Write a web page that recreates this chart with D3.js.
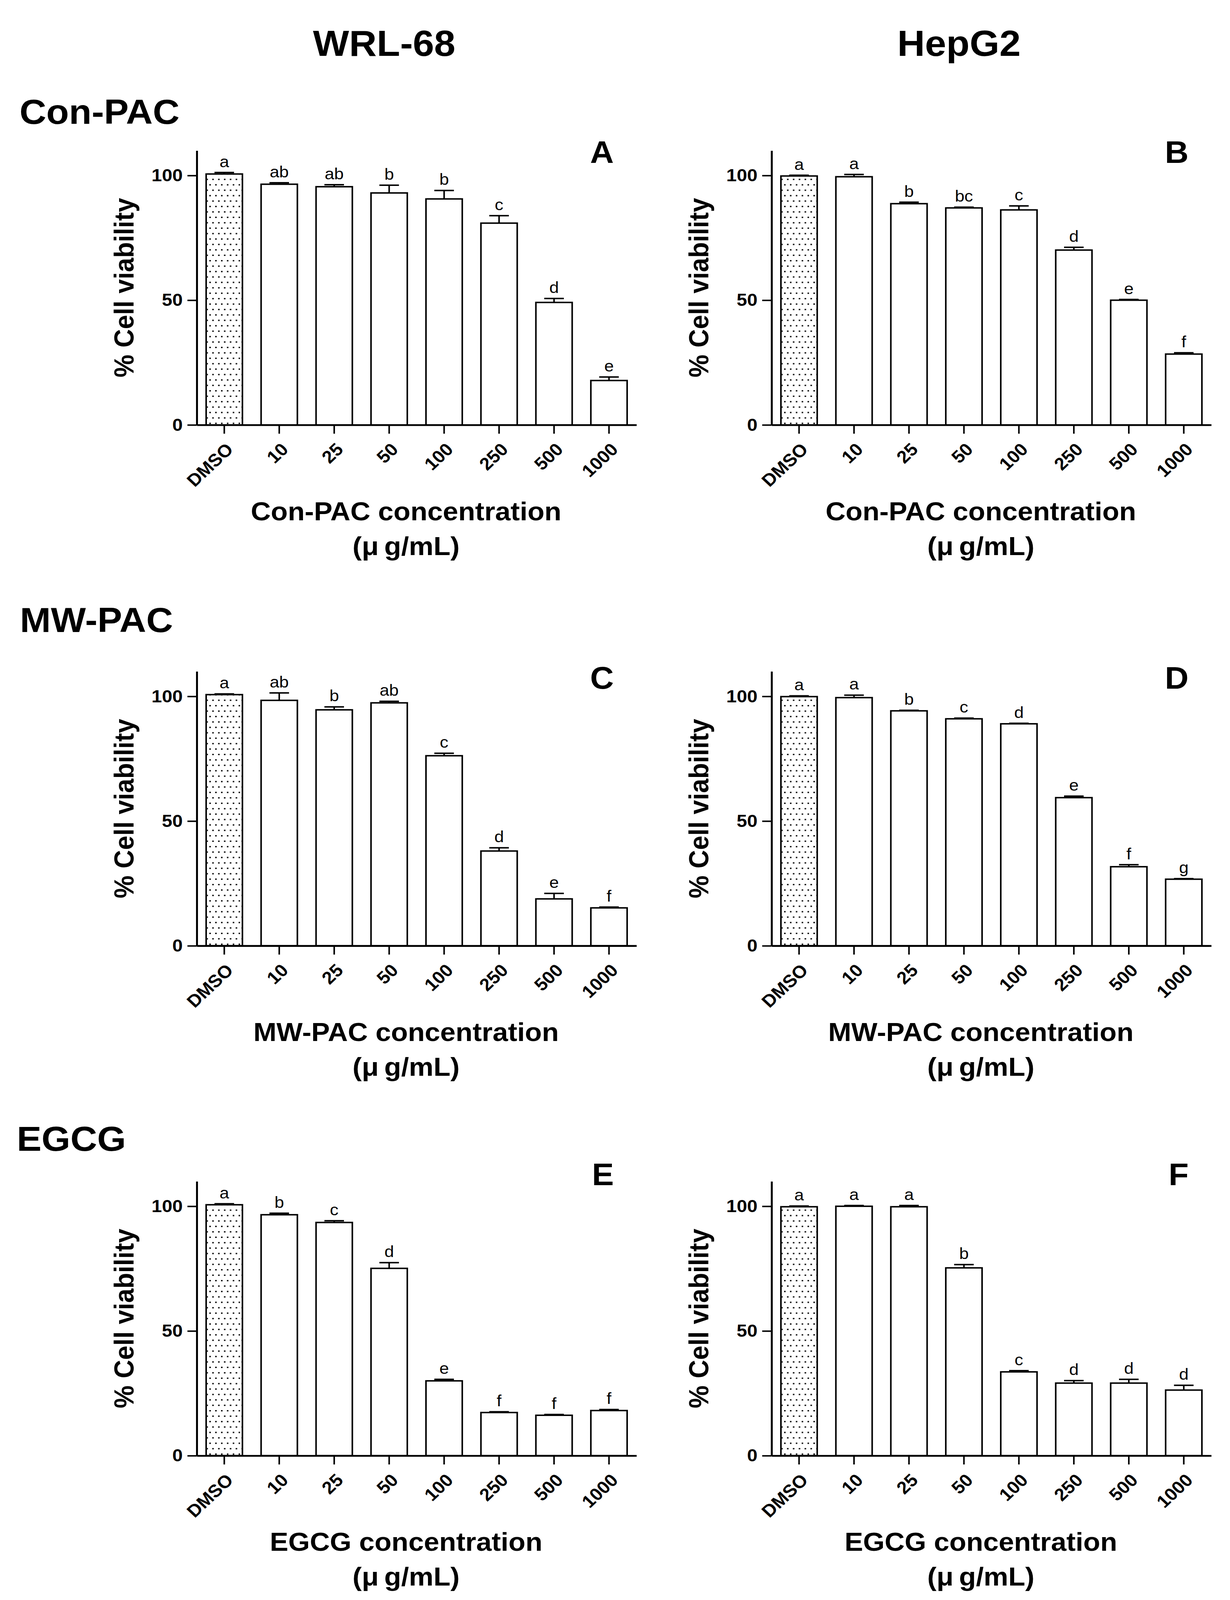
<!DOCTYPE html>
<html>
<head>
<meta charset="utf-8">
<script src="https://cdn.jsdelivr.net/npm/d3@7"></script>
<style>
  html, body { margin: 0; padding: 0; background: #fff; overflow: hidden; }
  svg { display: block; }
  text { font-family: "Liberation Sans", Arial, sans-serif; fill: #000; }
</style>
</head>
<body>
<script>
// concentrations (µg/mL), DMSO is the vehicle control
var categories = ["DMSO", "10", "25", "50", "100", "250", "500", "1000"];
var yTicks = [0, 50, 100];
var cellLines = ["WRL-68", "HepG2"];
var treatments = ["Con-PAC", "MW-PAC", "EGCG"];
var panelLetters = ["A", "B", "C", "D", "E", "F"];

// % cell viability, mean and error (upper bar only)
var conPacWrl    = [100.6, 96.5, 95.5, 93.0, 90.6, 80.9, 49.1, 17.8];
var conPacWrlErr = [0.6, 0.6, 0.8, 3.1, 3.4, 3.0, 1.6, 1.4];
var conPacWrlSig = ["a", "ab", "ab", "b", "b", "c", "d", "e"];

var conPacHep    = [99.8, 99.5, 88.7, 87.0, 86.2, 70.1, 50.0, 28.4];
var conPacHepErr = [0.3, 0.9, 0.6, 0.3, 1.6, 1.1, 0.3, 0.5];
var conPacHepSig = ["a", "a", "b", "bc", "c", "d", "e", "f"];

var mwPacWrl    = [100.7, 98.4, 94.6, 97.4, 76.2, 38.0, 18.8, 15.2];
var mwPacWrlErr = [0.3, 3.0, 1.2, 0.6, 1.0, 1.3, 2.2, 0.3];
var mwPacWrlSig = ["a", "ab", "b", "ab", "c", "d", "e", "f"];

var mwPacHep    = [99.9, 99.5, 94.2, 91.0, 89.0, 59.4, 31.7, 26.7];
var mwPacHepErr = [0.3, 1.0, 0.2, 0.3, 0.2, 0.6, 0.8, 0.2];
var mwPacHepSig = ["a", "a", "b", "c", "d", "e", "f", "g"];

var egcgWrl    = [100.6, 96.6, 93.5, 75.1, 30.0, 17.3, 16.2, 18.1];
var egcgWrlErr = [0.4, 0.6, 0.7, 2.3, 0.6, 0.3, 0.3, 0.4];
var egcgWrlSig = ["a", "b", "c", "d", "e", "f", "f", "f"];

var egcgHep    = [99.8, 100.0, 99.8, 75.3, 33.6, 29.1, 29.1, 26.3];
var egcgHepErr = [0.3, 0.3, 0.5, 1.3, 0.5, 1.0, 1.5, 1.9];
var egcgHepSig = ["a", "a", "a", "b", "c", "d", "d", "d"];

var panels = [
    {row: 0, col: 0, values: conPacWrl, err: conPacWrlErr, sig: conPacWrlSig},
    {row: 0, col: 1, values: conPacHep, err: conPacHepErr, sig: conPacHepSig},
    {row: 1, col: 0, values: mwPacWrl, err: mwPacWrlErr, sig: mwPacWrlSig},
    {row: 1, col: 1, values: mwPacHep, err: mwPacHepErr, sig: mwPacHepSig},
    {row: 2, col: 0, values: egcgWrl, err: egcgWrlErr, sig: egcgWrlSig},
    {row: 2, col: 1, values: egcgHep, err: egcgHepErr, sig: egcgHepSig}
];

// layout, in figure units (the figure is 3150 x 4368 and is fitted to the window)
var width = 3150, height = 4368;
var colX = [504, 1976];
var rowZero = [1160, 2582, 3974];
var rowHeadY = [338, 1725, 3142];
var rowHeadX = [50, 51, 43];
var letterDy = [-715, -702, -738];
var plotW = 1126, plotH = 749;

var vw = window.innerWidth || width,
    vh = window.innerHeight || height;

var svg = d3.select("body").append("svg")
    .attr("width", vw)
    .attr("height", vh)
    .attr("viewBox", "0 0 " + width + " " + height)
    .attr("preserveAspectRatio", "none");

svg.append("rect").attr("width", width).attr("height", height).attr("fill", "#fff");

var pat = svg.append("defs").append("pattern")
    .attr("id", "dots")
    .attr("patternUnits", "userSpaceOnUse")
    .attr("width", 15)
    .attr("height", 29.6);
pat.append("rect").attr("width", 15).attr("height", 29.6).attr("fill", "#fff");
pat.append("rect").attr("x", 2).attr("y", 3).attr("width", 4).attr("height", 3.5).attr("fill", "#000");
pat.append("rect").attr("x", 9.5).attr("y", 17.8).attr("width", 4).attr("height", 3.5).attr("fill", "#000");

// column headers
cellLines.forEach(function (name, i) {
    svg.append("text")
        .attr("x", colX[i] + 480)
        .attr("y", 153)
        .attr("text-anchor", "middle")
        .attr("font-size", 98)
        .attr("font-weight", "bold")
        .text(name);
});

// row headers
treatments.forEach(function (name, i) {
    svg.append("text")
        .attr("x", rowHeadX[i])
        .attr("y", rowHeadY[i])
        .attr("font-size", 95)
        .attr("font-weight", "bold")
        .text(name);
});

panels.forEach(function (p, k) {
    var g = svg.append("g")
        .attr("transform", "translate(" + colX[p.col] + "," + (rowZero[p.row] - plotH) + ")");

    var x = d3.scaleBand()
        .domain(categories)
        .range([0, plotW])
        .paddingInner(0.34)
        .paddingOuter(0.17);
    var y = d3.scaleLinear()
        .domain([0, 110])
        .range([plotH, 0]);

    var data = categories.map(function (c, i) {
        return {cat: c, v: p.values[i], e: p.err[i], s: p.sig[i]};
    });

    g.selectAll(".bar")
        .data(data)
        .enter().append("rect")
        .attr("class", "bar")
        .attr("x", function (d) { return x(d.cat); })
        .attr("width", x.bandwidth())
        .attr("y", function (d) { return y(d.v); })
        .attr("height", function (d) { return plotH - y(d.v); })
        .attr("fill", function (d, i) { return i === 0 ? "url(#dots)" : "#fff"; })
        .attr("stroke", "#000")
        .attr("stroke-width", 4);

    var capW = x.bandwidth() * 0.54;
    var cx = function (d) { return x(d.cat) + x.bandwidth() / 2; };

    g.selectAll(".errv")
        .data(data)
        .enter().append("line")
        .attr("x1", cx).attr("x2", cx)
        .attr("y1", function (d) { return y(d.v); })
        .attr("y2", function (d) { return y(d.v + d.e); })
        .attr("stroke", "#000")
        .attr("stroke-width", 4);

    g.selectAll(".errc")
        .data(data)
        .enter().append("line")
        .attr("x1", function (d) { return cx(d) - capW / 2; })
        .attr("x2", function (d) { return cx(d) + capW / 2; })
        .attr("y1", function (d) { return y(d.v + d.e); })
        .attr("y2", function (d) { return y(d.v + d.e); })
        .attr("stroke", "#000")
        .attr("stroke-width", 4);

    g.selectAll(".sig")
        .data(data)
        .enter().append("text")
        .attr("x", cx)
        .attr("y", function (d) { return y(d.v + d.e) - 15; })
        .attr("text-anchor", "middle")
        .attr("font-size", 44)
        .text(function (d) { return d.s; });

    // axes
    var yAxis = g.append("g")
        .call(d3.axisLeft(y).tickValues(yTicks).tickSize(24).tickPadding(12).tickSizeOuter(0));
    yAxis.attr("font-size", 48).attr("font-weight", "bold").attr("font-family", null);
    yAxis.select(".domain").attr("stroke-width", 5);
    yAxis.selectAll(".tick line").attr("stroke-width", 4);

    var xAxis = g.append("g")
        .attr("transform", "translate(0," + plotH + ")")
        .call(d3.axisBottom(x).tickSize(24).tickSizeOuter(0));
    xAxis.attr("font-size", 48).attr("font-weight", "bold").attr("font-family", null);
    xAxis.select(".domain").attr("stroke-width", 5);
    xAxis.selectAll(".tick line").attr("stroke-width", 4);
    xAxis.selectAll(".tick text")
        .attr("x", 0)
        .attr("y", 0)
        .attr("dy", "0.35em")
        .attr("text-anchor", "end")
        .attr("transform", "translate(14,58) rotate(-45)");

    // labels
    g.append("text")
        .attr("transform", "translate(-162," + y(55) + ") rotate(-90)")
        .attr("text-anchor", "middle")
        .attr("font-size", 70)
        .attr("font-weight", "bold")
        .text("% Cell viability");

    var title = g.append("text")
        .attr("x", 536)
        .attr("y", plotH + 260)
        .attr("text-anchor", "middle")
        .attr("font-size", 71)
        .attr("font-weight", "bold");
    title.append("tspan").text(treatments[p.row] + " concentration");
    title.append("tspan")
        .attr("x", 536)
        .attr("dy", 95)
        .text("(\u03bc\u2009g/mL)");

    g.append("text")
        .attr("x", 1068)
        .attr("y", plotH + letterDy[p.row])
        .attr("text-anchor", "end")
        .attr("font-size", 84)
        .attr("font-weight", "bold")
        .text(panelLetters[k]);
});
</script>
</body>
</html>
